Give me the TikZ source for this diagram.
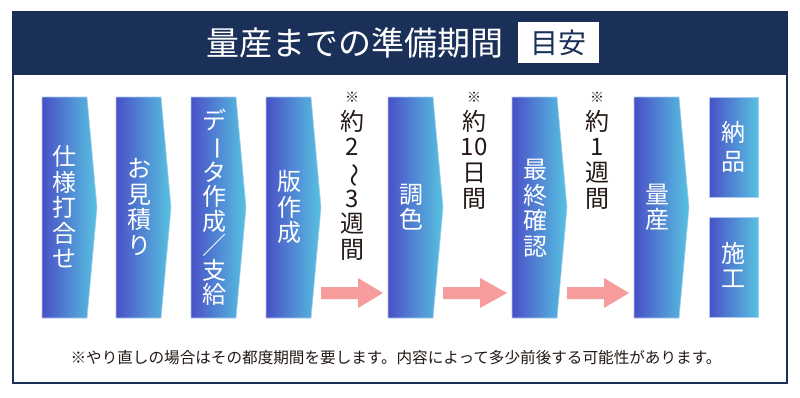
\documentclass[tikz,border=0pt]{standalone}
\usepackage{fontspec}
\usepackage{graphicx}
\setmainfont{Noto Sans CJK JP}
\definecolor{navy}{HTML}{1B3059}
\definecolor{boxL}{HTML}{4A50C8}
\definecolor{boxR}{HTML}{57C2E0}
\definecolor{boxE}{HTML}{A9CBEF}
\definecolor{pinkc}{HTML}{F79C9C}
\definecolor{ink}{HTML}{231815}
\newcommand\chev[1]{\shadedraw[stepbox] (#1,97) -- ++(45,0) -- ++(10,110.5) -- ++(-10,110.5) -- ++(-45,0) -- cycle;}
\newcommand\parrow[3]{\fill[pinkc] (#1,287) -- (#2,287) -- (#2,278) -- (#3,293) -- (#2,308) -- (#2,299) -- (#1,299) -- cycle;}
\begin{document}
\begin{tikzpicture}[x=1pt,y=-1pt,
  stepbox/.style={left color=boxL,right color=boxR,draw=boxE,line width=0.6pt},
  boxtext/.style={text=white,align=center,inner sep=0,font=\fontsize{24}{25.5}\selectfont},
  note/.style={text=ink,align=center,inner sep=0,anchor=north,font=\fontsize{24}{25.6}\selectfont},
  kome/.style={text=ink,inner sep=0,font=\fontsize{14}{14}\selectfont}]
\useasboundingbox (0,0) rectangle (800,397);
\fill[white] (0,0) rectangle (800,397);
\draw[navy,line width=1.5pt] (13,12) rectangle (787,383);
\fill[navy] (13,12) rectangle (787,75);
\node[text=white,font=\fontsize{33}{33}\selectfont] (title) at (355,43) {量産までの準備期間};
\node[fill=white,minimum width=81pt,minimum height=41pt,inner sep=0,text=navy,font=\fontsize{28}{28}\selectfont] (meyasu) at (558.5,42.5) {目安};
% chevrons
\chev{42}
\chev{116}
\chev{191}
\chev{266}
\chev{388}
\chev{512}
\chev{634}
\shadedraw[stepbox] (709,97) rectangle (758,197);
\shadedraw[stepbox] (709,217) rectangle (758,317);
% box texts
\node[boxtext] (t1) at (64.5,207) {仕\\様\\打\\合\\せ};
\node[boxtext] (t2) at (139,207) {お\\見\\積\\り};
\node[boxtext,font=\fontsize{24}{24.5}\selectfont] (t3) at (214,207.5) {デ\\\rotatebox[origin=c]{-90}{ー}\\タ\\作\\成\\／\\支\\給};
\node[boxtext] (t4) at (289,207) {版\\作\\成};
\node[boxtext] (t5) at (411,207) {調\\色};
\node[boxtext] (t6) at (535,208) {最\\終\\確\\認};
\node[boxtext] (t7) at (657,207) {量\\産};
\node[boxtext,font=\fontsize{24}{29}\selectfont] (t8) at (733.5,147) {納\\品};
\node[boxtext] (t9) at (733.5,265) {施\\工};
% notes
\node[kome] (k1) at (352,97) {※};
\node[note] (n1) at (352,110) {約\\2\\\rotatebox[origin=c]{-90}{〜}\\3\\週\\間};
\node[kome] (k2) at (474,97) {※};
\node[note] (n2) at (474,110) {約\\10\\日\\間};
\node[kome] (k3) at (597,97) {※};
\node[note] (n3) at (597,110) {約\\1\\週\\間};
% pink arrows
\parrow{321}{358}{383}
\parrow{443}{480}{507}
\parrow{567}{604}{629}
% footer
\node[text=ink,font=\fontsize{15.6}{15.6}\selectfont] (foot) at (396,358) {※やり直しの場合はその都度期間を要します。内容によって多少前後する可能性があります。};
\end{tikzpicture}
\end{document}
